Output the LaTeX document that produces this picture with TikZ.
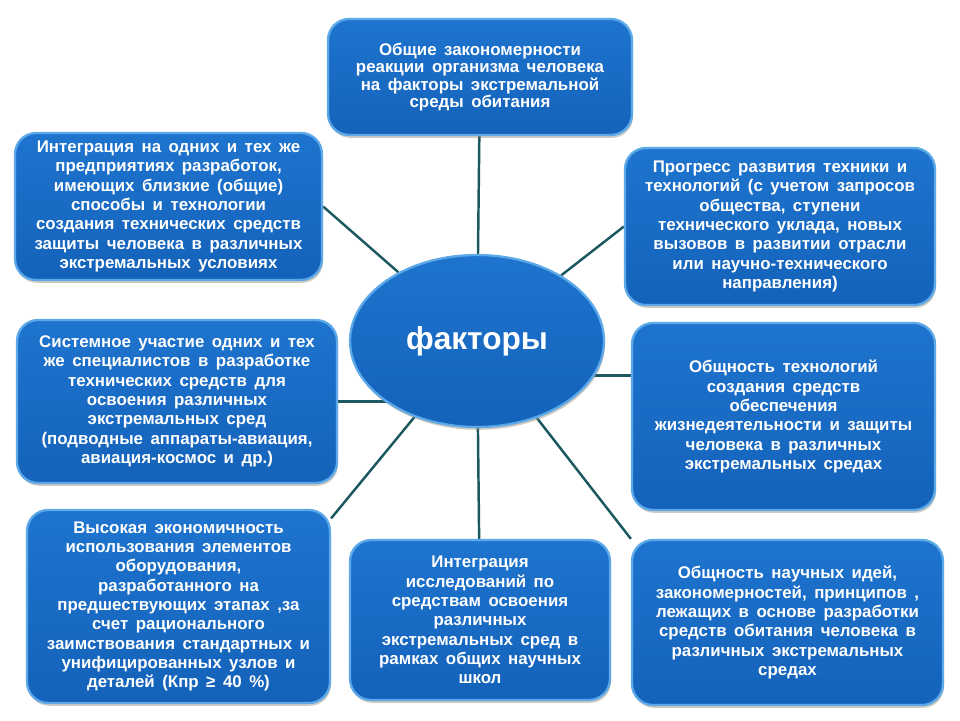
\documentclass[tikz,border=0pt]{standalone}
\usepackage{fontspec}
\setmainfont{Liberation Sans}[WordSpace=1.6]
\usetikzlibrary{shapes.geometric,shadows,backgrounds}
\definecolor{boxblue}{RGB}{20,98,186}
\definecolor{boxtop}{RGB}{30,116,206}
\definecolor{rimblue}{RGB}{92,168,232}
\definecolor{linkteal}{RGB}{28,88,96}
\definecolor{shadowtan}{RGB}{150,140,120}
\begin{document}
\begin{tikzpicture}[x=0.02cm,y=-0.02cm,
    factbox/.style={rounded corners=0.42cm, draw=rimblue, line width=1.3pt,
      top color=boxtop, bottom color=boxblue, text=white, align=center,
      font=\bfseries\fontsize{9.6}{11}\selectfont, inner sep=0pt,
      drop shadow={shadow xshift=0.6pt, shadow yshift=-1.6pt, opacity=0.45, fill=shadowtan}},
    link/.style={draw=linkteal, line width=1.4pt}]
    \useasboundingbox (0,0) rectangle (960,720);
    \node[factbox, minimum width=6.08cm, minimum height=2.32cm,
        font=\bfseries\fontsize{9.6}{9.9}\selectfont] (top) at (480,77)
        {Общие  закономерности\\реакции  организма  человека\\на факторы  экстремальной\\среды  обитания};
    \node[factbox, minimum width=6.14cm, minimum height=2.94cm] (tl) at (168.5,206.5)
        {Интеграция  на одних  и тех же\\предприятиях  разработок,\\имеющих  близкие (общие)\\способы  и технологии\\создания  технических  средств\\защиты  человека в различных\\экстремальных  условиях};
    \node[factbox, minimum width=6.2cm, minimum height=3.14cm] (tr) at (780,226.5)
        {Прогресс  развития  техники  и\\технологий  (с учетом запросов\\общества,  ступени\\технического  уклада, новых\\вызовов  в развитии  отрасли\\или  научно-технического\\направления)};
    \node[factbox, minimum width=6.4cm, minimum height=3.26cm] (ml) at (177,401.5)
        {Системное  участие  одних  и тех\\же специалистов  в разработке\\технических  средств  для\\освоения  различных\\экстремальных  сред\\(подводные  аппараты-авиация,\\авиация-космос  и др.)};
    \node[factbox, minimum width=6.06cm, minimum height=3.74cm] (mr) at (783.5,416.5)
        {Общность  технологий\\создания  средств\\обеспечения\\жизнедеятельности  и защиты\\человека  в различных\\экстремальных  средах};
    \node[factbox, minimum width=6.06cm, minimum height=3.86cm] (bl) at (178.5,606.5)
        {Высокая  экономичность\\использования  элементов\\оборудования,\\разработанного  на\\предшествующих  этапах  ,за\\счет рационального\\заимствования  стандартных  и\\унифицированных  узлов и\\деталей  (Кпр ≥ 40 \%)};
    \node[factbox, minimum width=5.2cm, minimum height=3.2cm] (bc) at (480,620)
        {Интеграция\\исследований  по\\средствам  освоения\\различных\\экстремальных  сред в\\рамках  общих  научных\\школ};
    \node[factbox, minimum width=6.22cm, minimum height=3.3cm] (br) at (787.5,622.5)
        {Общность  научных  идей,\\закономерностей,  принципов  ,\\лежащих  в основе  разработки\\средств  обитания  человека в\\различных  экстремальных\\средах};
    \node[factbox, ellipse, minimum width=5.08cm, minimum height=3.44cm,
        font=\bfseries\fontsize{18}{20}\selectfont] (fac) at (477,341) {факторы};
    \begin{pgfonlayer}{background}
        \fill[white] (0,0) rectangle (960,720);
        \draw[link] (fac) -- (top);
        \draw[link] (fac) -- (tl.east);
        \draw[link] (fac) -- (tr.west);
        \draw[link] (ml.east) -- (fac.center |- ml.east);
        \draw[link] (mr.165) -- (fac.center |- mr.165);
        \draw[link] (fac) -- (bl.30);
        \draw[link] (fac) -- (bc);
        \draw[link] (fac) -- (br.north west);
    \end{pgfonlayer}
\end{tikzpicture}
\end{document}
